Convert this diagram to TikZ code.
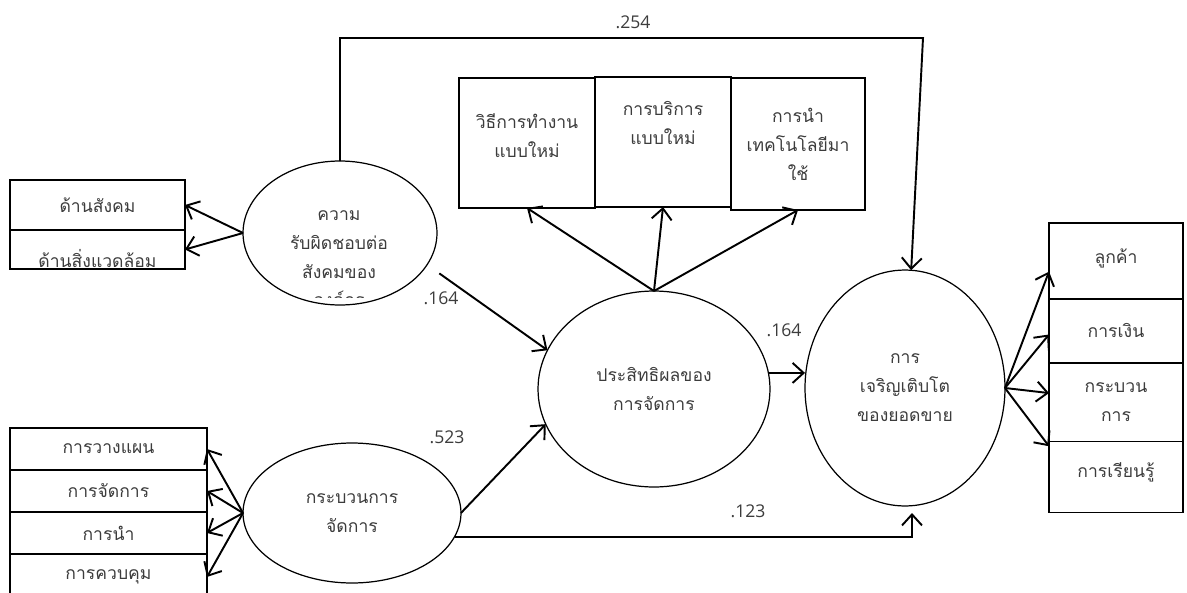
\documentclass[tikz,border=0pt]{standalone}
\usepackage{fontspec}
\setmainfont[Script=Thai]{Loma}
\newfontfamily\numfont{Open Sans}
\usetikzlibrary{positioning, arrows.meta, calc, shapes.geometric}
\definecolor{inkgray}{RGB}{60,60,60}

\begin{document}
\begin{tikzpicture}[x=0.02cm, y=-0.02cm, >={Straight Barb[length=2.2mm,width=4mm]},
    latent/.style={ellipse, draw, line width=0.7pt, inner sep=0pt, outer sep=0pt,
      text=inkgray, align=center, font=\fontsize{10}{16.5}\selectfont},
    obsbox/.style={rectangle, draw, line width=0.6pt, inner sep=0pt, outer sep=0pt,
      text=inkgray, align=center, font=\fontsize{10}{16.5}\selectfont},
    coef/.style={text=inkgray, font=\numfont\fontsize{10}{11}\selectfont, inner sep=0pt},
    link/.style={->, line width=1.1pt}]
  \useasboundingbox (0,0) rectangle (1187,592);

  % latent variables
  \node[latent, minimum width=3.88cm, minimum height=2.88cm] (csr) at (340,233) {};
  \node[latent, minimum width=4.64cm, minimum height=3.92cm] (eff) at (654,389) {ประสิทธิผลของ\\การจัดการ};
  \node[latent, minimum width=4.36cm, minimum height=2.8cm] (proc) at (352,513) {กระบวนการ\\จัดการ};
  \node[latent, minimum width=4cm, minimum height=4.72cm] (growth) at (905,388) {การ\\เจริญเติบโต\\ของยอดขาย};
  \begin{scope}
    \clip (240,150) rectangle (440,297);
    \node[text=inkgray, align=center, font=\fontsize{10}{16.3}\selectfont] (csrtext) at (339,259) {ความ\\รับผิดชอบต่อ\\สังคมของ\\องค์กร};
  \end{scope}

  % indicators of csr
  \node[obsbox, minimum width=3.5cm, minimum height=1cm] (social) at (97.5,205) {ด้านสังคม};
  \node[obsbox, minimum width=3.5cm, minimum height=0.78cm, below=0pt of social] (env) {};
  \begin{scope}
    \clip (social.south west) rectangle (env.south east);
    \node[text=inkgray, font=\fontsize{10}{16.5}\selectfont] (envtext) at (97.5,259) {ด้านสิ่งแวดล้อม};
  \end{scope}

  % indicators of innovation
  \node[obsbox, minimum width=2.72cm, minimum height=2.6cm, text depth=8pt] (workway) at (527,143) {วิธีการทำงาน\\แบบใหม่};
  \node[obsbox, minimum width=2.72cm, minimum height=2.6cm, text depth=22pt] (service) at (663,142) {การบริการ\\แบบใหม่};
  \node[obsbox, minimum width=2.68cm, minimum height=2.64cm] (techuse) at (798,144) {การนำ\\เทคโนโลยีมา\\ใช้};

  % indicators of management process
  \node[obsbox, minimum width=3.94cm, minimum height=0.84cm] (plan) at (108.5,449) {การวางแผน};
  \node[obsbox, minimum width=3.94cm, minimum height=0.84cm, below=0pt of plan] (organize) {การจัดการ};
  \node[obsbox, minimum width=3.94cm, minimum height=0.84cm, below=0pt of organize] (lead) {การนำ};
  \node[obsbox, minimum width=3.94cm, minimum height=0.92cm, below=0pt of lead] (control) {การควบคุม};

  % indicators of sales growth
  \node[obsbox, line width=1.2pt, minimum width=2.68cm, minimum height=1.52cm, text depth=6pt] (customer) at (1116,261) {ลูกค้า};
  \node[obsbox, minimum width=2.68cm, minimum height=1.28cm, below=0pt of customer] (finance) {การเงิน};
  \node[obsbox, minimum width=2.68cm, minimum height=1.58cm, below=0pt of finance] (internal) {กระบวน\\การ};
  \node[obsbox, minimum width=2.68cm, minimum height=1.42cm, text depth=8pt, below=0pt of internal] (learning) {การเรียนรู้};

  \coordinate (topright) at (923,38);
  \coordinate (growthfoot) at (912,513);

  % measurement arrows
  \path[link] (csr.west) edge (social.east)
              (csr.west) edge (env.east)
              (eff.north) edge (workway.south)
              (eff.north) edge (service.south)
              (eff.north) edge (techuse.south)
              (proc.west) edge (plan.east)
              (proc.west) edge (organize.east)
              (proc.west) edge (lead.east)
              (proc.west) edge (control.east)
              (growth.east) edge (customer.189)
              (growth.east) edge (finance.183)
              (growth.east) edge (internal.172)
              (growth.east) edge (learning.155);

  % structural paths
  \draw[link] (csr.north) |- (topright) -- (growth.87);
  \draw[link, shorten <=0.3cm] (csr.-20) -- (eff.160);
  \draw[link] (proc.east) -- (eff.198);
  \draw[link] (eff.8) -- (eff.8 -| growth.west);
  \draw[link] (proc.-13) -| (growthfoot);

  \node[coef] (b254) at (633,22) {.254};
  \node[coef] (b164a) at (441,298) {.164};
  \node[coef] (b523) at (447,437) {.523};
  \node[coef] (b164b) at (784,330) {.164};
  \node[coef] (b123) at (748,511) {.123};
\end{tikzpicture}
\end{document}
